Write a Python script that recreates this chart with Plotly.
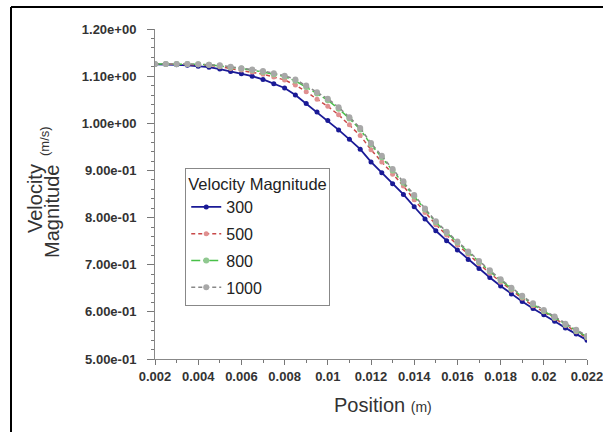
import plotly.graph_objects as go

position = [0.002, 0.0025, 0.003, 0.0035, 0.004, 0.0045, 0.005, 0.0055, 0.006, 0.0065,
            0.007, 0.0075, 0.008, 0.0085, 0.009, 0.0095, 0.010, 0.0105, 0.011, 0.0115,
            0.012, 0.0125, 0.013, 0.0135, 0.014, 0.0145, 0.015, 0.0155, 0.016, 0.0165,
            0.017, 0.0175, 0.018, 0.0185, 0.019, 0.0195, 0.020, 0.0205, 0.021, 0.0215, 0.022]

v300 = [1.125, 1.125, 1.124, 1.123, 1.121, 1.119, 1.115, 1.110, 1.105, 1.100,
        1.093, 1.084, 1.075, 1.060, 1.042, 1.024, 1.006, 0.986, 0.966, 0.945,
        0.918, 0.895, 0.872, 0.849, 0.823, 0.797, 0.772, 0.751, 0.731, 0.711,
        0.692, 0.673, 0.655, 0.638, 0.622, 0.607, 0.594, 0.580, 0.566, 0.553, 0.540]

v500 = [1.126, 1.126, 1.125, 1.125, 1.124, 1.123, 1.120, 1.116, 1.113, 1.109,
        1.104, 1.098, 1.092, 1.081, 1.067, 1.051, 1.036, 1.018, 0.997, 0.974,
        0.944, 0.918, 0.892, 0.867, 0.838, 0.811, 0.785, 0.763, 0.742, 0.722,
        0.702, 0.682, 0.663, 0.646, 0.629, 0.613, 0.600, 0.586, 0.571, 0.558, 0.545]

v800 = [1.126, 1.126, 1.126, 1.126, 1.125, 1.124, 1.122, 1.119, 1.116, 1.113,
        1.109, 1.104, 1.099, 1.090, 1.077, 1.063, 1.049, 1.031, 1.010, 0.987,
        0.955, 0.928, 0.900, 0.874, 0.845, 0.817, 0.790, 0.768, 0.747, 0.726,
        0.706, 0.686, 0.667, 0.649, 0.632, 0.616, 0.602, 0.588, 0.573, 0.560, 0.547]

v1000 = [1.126, 1.126, 1.126, 1.126, 1.125, 1.124, 1.123, 1.120, 1.117, 1.114,
         1.111, 1.106, 1.101, 1.093, 1.080, 1.066, 1.052, 1.034, 1.013, 0.990,
         0.958, 0.931, 0.903, 0.877, 0.848, 0.819, 0.792, 0.770, 0.749, 0.728,
         0.708, 0.688, 0.669, 0.651, 0.634, 0.618, 0.604, 0.590, 0.575, 0.562, 0.549]

series_names = ["300", "500", "800", "1000"]

x_tickvals = [0.002, 0.004, 0.006, 0.008, 0.010, 0.012, 0.014, 0.016, 0.018, 0.020, 0.022]
x_ticktext = ["0.002", "0.004", "0.006", "0.008", "0.01", "0.012", "0.014", "0.016", "0.018", "0.02", "0.022"]
y_tickvals = [0.5, 0.6, 0.7, 0.8, 0.9, 1.0, 1.1, 1.2]
y_ticktext = ["5.00e-01", "6.00e-01", "7.00e-01", "8.00e-01", "9.00e-01", "1.00e+00", "1.10e+00", "1.20e+00"]

FONT = "Liberation Sans, Arial, sans-serif"

fig = go.Figure()

styles = [
    dict(color="#1a1a96", dash="solid", mcolor="#1a1a96", msize=5, width=1.8),
    dict(color="#c84848", dash="4px,3px", mcolor="#e09090", msize=5, width=1.5),
    dict(color="#48c048", dash="dashdot", mcolor="#90c890", msize=6, width=1.5),
    dict(color="#888888", dash="4px,3px", mcolor="#a8a8a8", msize=6, width=1.5),
]
data = [v300, v500, v800, v1000]

for i in range(4):
    s = styles[i]
    fig.add_trace(go.Scatter(
        x=position, y=data[i], name=series_names[i], mode="lines+markers",
        line=dict(color=s["color"], width=s["width"], dash=s["dash"]),
        marker=dict(symbol="circle", size=s["msize"], color=s["mcolor"]),
        legendgroup=series_names[i],
    ))

fig.update_layout(
    width=603, height=432,
    margin=dict(l=155, r=16, t=29, b=73),
    paper_bgcolor="white", plot_bgcolor="white",
    font=dict(family=FONT, color="#333333"),
    showlegend=True,
    legend=dict(
        title=dict(text="Velocity Magnitude", font=dict(size=16.5, color="#222222")),
        font=dict(size=16, color="#222222"),
        x=0.07, y=0.58, xanchor="left", yanchor="top",
        bordercolor="#888888", borderwidth=1, bgcolor="white",
        tracegroupgap=3, itemwidth=30,
    ),
    xaxis=dict(
        range=[0.002, 0.022], tickvals=x_tickvals, ticktext=x_ticktext,
        ticks="outside", ticklen=5, tickcolor="#777777", automargin=False,
        showline=True, linecolor="#888888", linewidth=1,
        showgrid=False, zeroline=False, ticklabeloverflow="allow",
        tickfont=dict(size=13, color="#333333", weight="bold"),
        minor=dict(dtick=0.001, tick0=0.002, ticks="outside", ticklen=3, tickcolor="#777777"),
    ),
    yaxis=dict(
        range=[0.5, 1.2], tickvals=y_tickvals, ticktext=y_ticktext,
        ticks="outside", ticklen=7, tickcolor="#777777", ticklabelstandoff=8,
        showline=True, linecolor="#888888", linewidth=1, automargin=False,
        showgrid=False, zeroline=False,
        tickfont=dict(size=13, color="#333333", weight="bold"),
        minor=dict(dtick=0.02, tick0=0.5, ticks="outside", ticklen=3, tickcolor="#777777"),
    ),
)

# axis titles (reference pixel positions converted relative to plot area)
fig.add_annotation(text="Position <span style='font-size:14px'>(m)</span>",
                   xref="paper", yref="paper", x=(383 - 155) / 432, y=(359 - 405) / 330,
                   xanchor="center", yanchor="middle", showarrow=False,
                   font=dict(size=20, color="#333333", family=FONT))
fig.add_annotation(text="Velocity", xref="paper", yref="paper", x=(35 - 155) / 432,
                   y=(359 - 199) / 330, xanchor="center", yanchor="middle", textangle=-90,
                   showarrow=False, font=dict(size=20, color="#333333", family=FONT))
fig.add_annotation(text="Magnitude", xref="paper", yref="paper", x=(52 - 155) / 432,
                   y=(359 - 212) / 330, xanchor="center", yanchor="middle", textangle=-90,
                   showarrow=False, font=dict(size=20, color="#333333", family=FONT))
fig.add_annotation(text="(m/s)", xref="paper", yref="paper", x=(44 - 155) / 432,
                   y=(359 - 141) / 330, xanchor="center", yanchor="middle", textangle=-90,
                   showarrow=False, font=dict(size=13, color="#333333", family=FONT))

# outer frame (left and top edges visible)
top_y = (359 - 7) / 330
fig.add_shape(type="line", xref="paper", yref="paper",
              x0=(11 - 155) / 432, x1=(11 - 155) / 432, y0=-0.3, y1=top_y,
              line=dict(color="black", width=2))
fig.add_shape(type="line", xref="paper", yref="paper",
              x0=(11 - 155) / 432, x1=1.1, y0=top_y, y1=top_y,
              line=dict(color="black", width=2))

fig.write_html(
    "out.html",
    config={"displayModeBar": False},
    post_script="document.body.style.margin='0';document.body.style.overflow='hidden';",
)
